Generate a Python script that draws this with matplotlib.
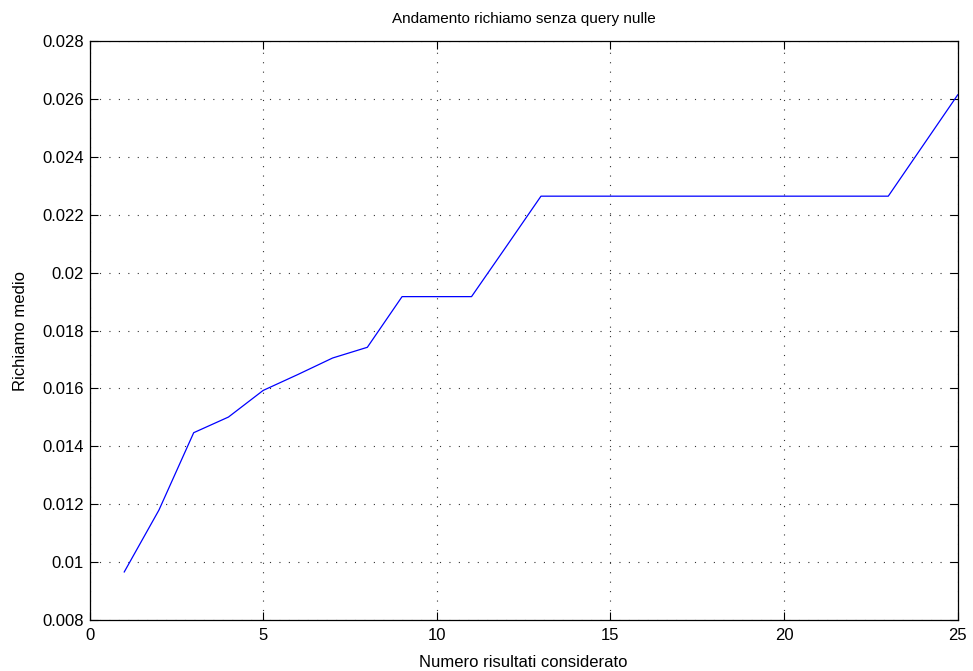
import matplotlib
matplotlib.use("Agg")
import matplotlib.pyplot as plt

plt.rcParams['font.family'] = ['Liberation Sans', 'DejaVu Sans']

# Average recall vs. number of results considered
n_results = list(range(1, 26))
recall = [0.00966, 0.01180, 0.01447, 0.01501, 0.01593, 0.01648, 0.01705, 0.01742,
          0.01917, 0.01917, 0.01917, 0.02090, 0.02264, 0.02264, 0.02264, 0.02264,
          0.02264, 0.02264, 0.02264, 0.02264, 0.02264, 0.02264, 0.02264, 0.02439,
          0.02614]

x_ticks = [0, 5, 10, 15, 20, 25]
y_ticks = [0.008, 0.01, 0.012, 0.014, 0.016, 0.018, 0.02, 0.022, 0.024, 0.026, 0.028]
y_tick_labels = ['0.008', '0.01', '0.012', '0.014', '0.016', '0.018', '0.02',
                 '0.022', '0.024', '0.026', '0.028']

fig = plt.figure(figsize=(9.73, 6.71), dpi=100)
ax = fig.add_axes([0.092, 0.076, 0.8923, 0.8629])

ax.plot(n_results, recall, color=(0, 0, 1), linewidth=0.9)

ax.set_xlim(0, 25)
ax.set_ylim(0.008, 0.028)
ax.set_xticks(x_ticks)
ax.set_yticks(y_ticks)
ax.set_yticklabels(y_tick_labels)

ax.grid(True, color='0.2', linestyle=(0, (1, 7.5)), linewidth=0.8)
ax.tick_params(direction='in', length=6, width=0.8, top=True, right=True,
               labelsize=12)
ax.tick_params(axis='x', pad=5.5)
ax.tick_params(axis='y', pad=4)
for s in ax.spines.values():
    s.set_linewidth(0.9)

ax.set_title('Andamento richiamo senza query nulle', fontsize=11, pad=13)
ax.set_xlabel('Numero risultati considerato', fontsize=12, labelpad=9)
ax.set_ylabel('Richiamo medio', fontsize=12, labelpad=10)

fig.savefig('out.png', dpi=100)
